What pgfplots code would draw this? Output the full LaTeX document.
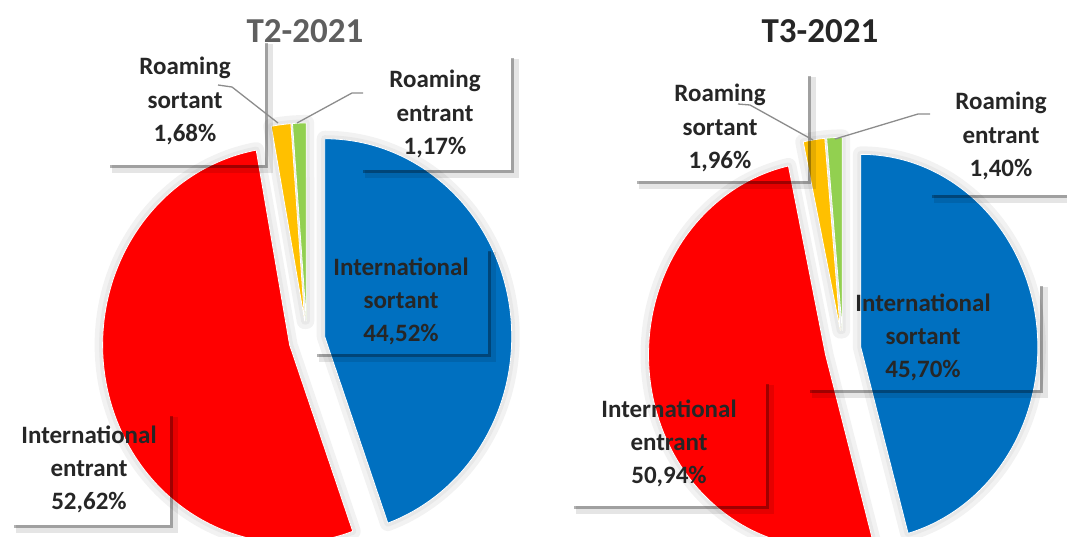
\documentclass[border=0pt]{standalone}
\usepackage{fontspec}
\setmainfont{Carlito}
\usepackage{pgfplots}
\pgfplotsset{compat=1.18}
\definecolor{cblue}{RGB}{0,112,192}
\definecolor{cred}{RGB}{255,0,0}
\definecolor{cyellow}{RGB}{255,192,0}
\definecolor{cgreen}{RGB}{146,208,80}
\definecolor{ctext}{RGB}{38,38,38}
\definecolor{ctitle}{RGB}{95,95,95}
\definecolor{cline}{RGB}{140,140,140}

% one slice: #1 pass, #2 cx, #3 cy (image coords), #4 rx, #5 ry, #6 start angle, #7 end angle, #8 colour
\newcommand\oneslice[8]{%
  \pgfmathsetmacro\sa{#6}\pgfmathsetmacro\ea{#7}%
  \pgfmathsetmacro\mb{(\sa+\ea)/2}%
  \pgfmathsetmacro\ox{#2+18*cos(\mb)}%
  \pgfmathsetmacro\oy{#3-18*(#5/#4)*sin(\mb)}%
  \ifcase#1
    \path[fill=black!5, draw=black!5, line width=16pt, line join=round] (axis cs:\ox,\oy) -- ++(\sa:#4pt and #5pt) arc[start angle=\sa, end angle=\ea, x radius=#4pt, y radius=#5pt] -- cycle;
  \or
    \path[fill=black!9, draw=black!9, line width=7pt, line join=round] (axis cs:\ox,\oy) -- ++(\sa:#4pt and #5pt) arc[start angle=\sa, end angle=\ea, x radius=#4pt, y radius=#5pt] -- cycle;
  \else
    \path[fill=#8, draw=white, line width=0.8pt, line join=round] (axis cs:\ox,\oy) -- ++(\sa:#4pt and #5pt) arc[start angle=\sa, end angle=\ea, x radius=#4pt, y radius=#5pt] -- cycle;
  \fi
}
% whole pie: #1 pass, #2 cx, #3 cy, #4 rx, #5 ry, #6..#9 shares in percent (clockwise from top)
\newcommand\pie[9]{%
  \pgfmathsetmacro\aA{90}%
  \pgfmathsetmacro\aB{\aA-3.6*#6}%
  \pgfmathsetmacro\aC{\aB-3.6*#7}%
  \pgfmathsetmacro\aD{\aC-3.6*#8}%
  \pgfmathsetmacro\aE{\aD-3.6*#9}%
  \oneslice{#1}{#2}{#3}{#4}{#5}{\aA}{\aB}{cblue}%
  \oneslice{#1}{#2}{#3}{#4}{#5}{\aB}{\aC}{cred}%
  \oneslice{#1}{#2}{#3}{#4}{#5}{\aC}{\aD}{cyellow}%
  \oneslice{#1}{#2}{#3}{#4}{#5}{\aD}{\aE}{cgreen}%
}
% label shadow: #1 left x, #2 top y, #3 right x, #4 bottom y
\newcommand\lshadow[4]{%
  \draw[black, opacity=0.10, line width=8pt] (axis cs:{#3+4},{#2+2}) -- (axis cs:{#3+4},{#4+4}) -- (axis cs:{#1+2},{#4+4});
  \draw[black, opacity=0.30, line width=3.5pt] (axis cs:{#3+1.5},{#2+1}) -- (axis cs:{#3+1.5},{#4+1.5}) -- (axis cs:{#1},{#4+1.5});
}
% three-line label: #1 centre x, #2 first baseline y
\newcommand\lbl[5]{%
  \node[anchor=base, inner sep=0pt, text=ctext, font=\bfseries\fontsize{25}{30}\selectfont] at (axis cs:#1,#2) {#3};
  \node[anchor=base, inner sep=0pt, text=ctext, font=\bfseries\fontsize{25}{30}\selectfont] at (axis cs:#1,#2+33.3) {#4};
  \node[anchor=base, inner sep=0pt, text=ctext, font=\bfseries\fontsize{25}{30}\selectfont] at (axis cs:#1,#2+66.6) {#5};
}

\begin{document}
\begin{tikzpicture}
\begin{axis}[
  scale only axis, width=1067pt, height=537pt,
  xmin=0, xmax=1067, ymin=0, ymax=537, y dir=reverse,
  enlargelimits=false, hide axis, clip=true]
\pgfplotsextra{%
  % T2-2021 / T3-2021: International sortant, International entrant, Roaming sortant, Roaming entrant
  \pie{0}{307}{340}{187}{198}{44.52}{52.62}{1.68}{1.17}
  \pie{0}{843}{350}{177}{193}{45.70}{50.94}{1.96}{1.40}
  \pie{1}{307}{340}{187}{198}{44.52}{52.62}{1.68}{1.17}
  \pie{1}{843}{350}{177}{193}{45.70}{50.94}{1.96}{1.40}
  \pie{2}{307}{340}{187}{198}{44.52}{52.62}{1.68}{1.17}
  \pie{2}{843}{350}{177}{193}{45.70}{50.94}{1.96}{1.40}
  % label shadows
  \lshadow{110}{42}{265}{165}
  \lshadow{363}{57}{511}{170}
  \lshadow{317}{250}{488}{354}
  \lshadow{14}{415}{170}{525}
  \lshadow{637}{75}{808}{181}
  \lshadow{932}{80}{1080}{195}
  \lshadow{810}{285}{1040}{390}
  \lshadow{574}{383}{766}{506}
  % leader lines
  \draw[cline, line width=1.3pt] (axis cs:218,85) -- (axis cs:232,87) -- (axis cs:278,123);
  \draw[cline, line width=1.3pt] (axis cs:363,93) -- (axis cs:352,93) -- (axis cs:297,123);
  \draw[cline, line width=1.3pt] (axis cs:738,104) -- (axis cs:750,105) -- (axis cs:813,140);
  \draw[cline, line width=1.3pt] (axis cs:930,114) -- (axis cs:918,114) -- (axis cs:835,139);
  % titles
  \node[anchor=base, inner sep=0pt, text=ctitle, font=\bfseries\fontsize{35}{40}\selectfont] at (axis cs:305,43) {T2-2021};
  \node[anchor=base, inner sep=0pt, text=ctext, font=\bfseries\fontsize{35}{40}\selectfont] at (axis cs:820,43) {T3-2021};
  % labels
  \lbl{185}{75}{Roaming}{sortant}{1,68\%}
  \lbl{435}{88}{Roaming}{entrant}{1,17\%}
  \lbl{401}{275}{International}{sortant}{44,52\%}
  \lbl{89}{443}{International}{entrant}{52,62\%}
  \lbl{720}{102}{Roaming}{sortant}{1,96\%}
  \lbl{1001}{110}{Roaming}{entrant}{1,40\%}
  \lbl{923}{311}{International}{sortant}{45,70\%}
  \lbl{669}{417}{International}{entrant}{50,94\%}
}
\end{axis}
\pgfresetboundingbox
\path (current axis.south west) rectangle (current axis.north east);
\end{tikzpicture}
\end{document}
